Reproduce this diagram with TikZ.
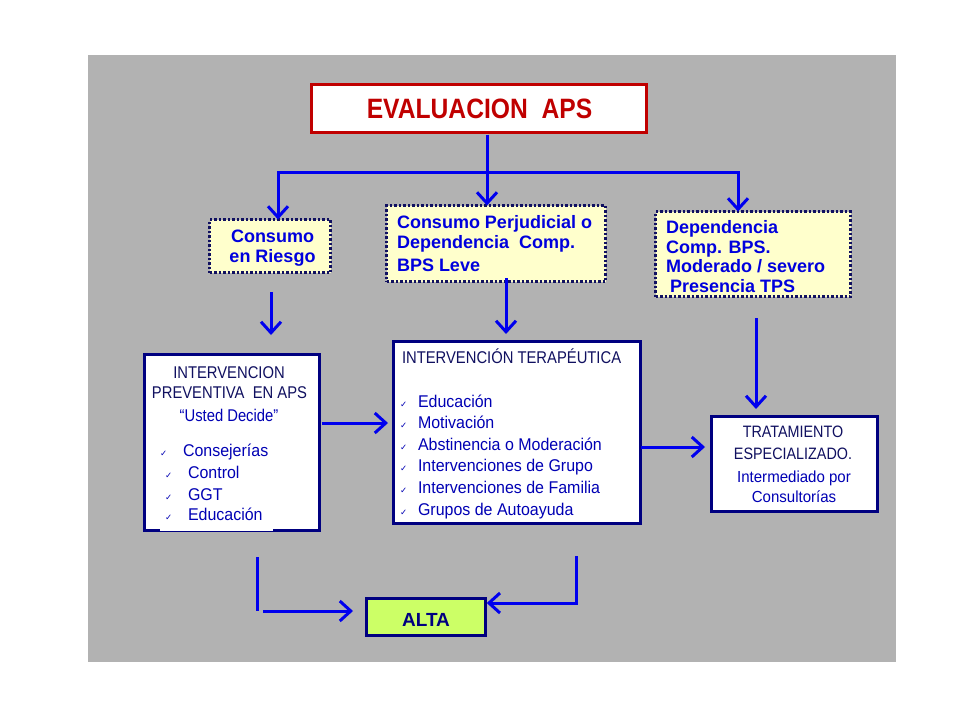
\documentclass[tikz,border=0pt]{standalone}
\usepackage{fontspec}
\setmainfont{Liberation Sans}
\newfontfamily\titlef[FakeStretch=0.88]{Liberation Sans}
\newfontfamily\capf[FakeStretch=0.87]{Liberation Sans}
\newfontfamily\lowf[FakeStretch=0.94]{Liberation Sans}
\newfontfamily\symf{DejaVu Sans}
\usetikzlibrary{arrows.meta}
\definecolor{bggray}{HTML}{B2B2B2}
\definecolor{titlered}{HTML}{C00000}
\definecolor{navybord}{HTML}{000080}
\definecolor{dotnavy}{HTML}{101060}
\definecolor{lightyel}{HTML}{FFFFCC}
\definecolor{altagreen}{HTML}{CCFF66}
\definecolor{arrblue}{HTML}{0000EE}
\definecolor{dotblue}{HTML}{0000DD}
\definecolor{darknavy}{HTML}{101060}
\definecolor{itemblue}{HTML}{0000B4}
\newcommand\myfs[2]{\fontsize{#1}{#2}\selectfont}
\newcommand\chk{{\symf\fontsize{8.5}{8.5}\selectfont ✓}}
\begin{document}
\begin{tikzpicture}[x=1pt,y=-1pt,
  box/.style={draw=navybord, line width=2.5pt, fill=white, inner sep=0pt, outer sep=0pt},
  dotbox/.style={draw=dotnavy, line width=2.5pt, dash pattern=on 2.5pt off 2pt, fill=lightyel, inner sep=0pt, outer sep=0pt},
  conn/.style={draw=arrblue, line width=3pt},
  arr/.style={conn, -{Straight Barb[length=11pt,width=20pt]}},
  txt/.style={inner sep=0pt, outer sep=0pt},
  dottxt/.style={txt, text=dotblue, font=\bfseries\myfs{18}{20}},
  captxt/.style={txt, text=darknavy, font=\capf\myfs{17}{20}},
  itemtxt/.style={txt, text=itemblue, font=\lowf\myfs{17}{20}},
  chktxt/.style={txt, text=itemblue}]
\useasboundingbox (0,0) rectangle (960,720);
\fill[white] (0,0) rectangle (960,720);
\node[fill=bggray, draw=none, inner sep=0pt, minimum width=808pt, minimum height=607pt] (bg) at (492,358.5) {};

% title
\node[draw=titlered, line width=2.5pt, fill=white, minimum width=335pt, minimum height=48pt, inner sep=0pt] (eval) at (479,108.5) {};
\node[txt, anchor=base, text=titlered, font=\titlef\bfseries\myfs{28}{30}] (evalt) at (479.5,118) {EVALUACION\ \ APS};

% dotted boxes
\node[dotbox, minimum width=121pt, minimum height=53pt] (box1) at (270,246) {};
\node[dottxt, anchor=base] (b1a) at (272.5,242) {Consumo};
\node[dottxt, anchor=base] (b1b) at (272.5,262) {en Riesgo};

\node[dotbox, minimum width=219pt, minimum height=76pt] (box2) at (496,243.5) {};
\node[dottxt, anchor=base west] (b2a) at (397,228) {Consumo Perjudicial o};
\node[dottxt, anchor=base west] (b2b) at (397,248) {Dependencia\ \ Comp.};
\node[dottxt, anchor=base west] (b2c) at (397,271) {BPS Leve};

\node[dotbox, minimum width=195pt, minimum height=85pt] (box3) at (753,254) {};
\node[dottxt, anchor=base west] (b3a) at (666,233) {Dependencia};
\node[dottxt, anchor=base west] (b3b) at (666,253) {Comp. BPS.};
\node[dottxt, anchor=base west] (b3c) at (666,272) {Moderado / severo};
\node[dottxt, anchor=base west] (b3d) at (670,292) {Presencia TPS};

% left box
\node[box, minimum width=175pt, minimum height=176pt] (lbox) at (232,442.5) {};
\fill[white] (160,526) rectangle (273,531);
\node[captxt, anchor=base] (l1) at (229,378) {INTERVENCION};
\node[captxt, anchor=base] (l2) at (229.5,398) {PREVENTIVA\ \ EN APS};
\node[captxt, anchor=base, text=itemblue] (l3) at (229,421) {“Usted Decide”};
\node[chktxt, anchor=base west] (lc1) at (160,456) {\chk};
\node[itemtxt, anchor=base west] (li1) at (183,456) {Consejerías};
\node[chktxt, anchor=base west] (lc2) at (165,478) {\chk};
\node[itemtxt, anchor=base west] (li2) at (188,478) {Control};
\node[chktxt, anchor=base west] (lc3) at (165,500) {\chk};
\node[itemtxt, anchor=base west] (li3) at (188,500) {GGT};
\node[chktxt, anchor=base west] (lc4) at (165,520) {\chk};
\node[itemtxt, anchor=base west] (li4) at (188,520) {Educación};

% middle box
\node[box, minimum width=247pt, minimum height=182pt] (mbox) at (517,432.5) {};
\node[captxt, anchor=base west] (m0) at (402,363) {INTERVENCIÓN TERAPÉUTICA};
\foreach \yy/\tt [count=\i] in {407/Educación, 428/Motivación, 450/Abstinencia o Moderación, 471/Intervenciones de Grupo, 493/Intervenciones de Familia, 515/Grupos de Autoayuda}{
  \node[chktxt, anchor=base west] (mc\i) at (400,\yy) {\chk};
  \node[itemtxt, anchor=base west] (mi\i) at (418,\yy) {\tt};
}

% right box
\node[box, minimum width=166pt, minimum height=95pt] (rbox) at (794.5,464) {};
\node[captxt, anchor=base, font=\capf\myfs{16.5}{20}] (r1) at (793,437) {TRATAMIENTO};
\node[captxt, anchor=base, font=\capf\myfs{16.5}{20}] (r2) at (793,459) {ESPECIALIZADO.};
\node[itemtxt, anchor=base, font=\lowf\myfs{16}{20}] (r3) at (794,482) {Intermediado por};
\node[itemtxt, anchor=base, font=\lowf\myfs{16}{20}] (r4) at (794,502) {Consultorías};

% alta
\node[draw=navybord, line width=2.5pt, fill=altagreen, minimum width=119pt, minimum height=37pt, inner sep=0pt] (alta) at (426,617) {};
\node[txt, anchor=base, text=navybord, font=\bfseries\myfs{19}{20}] (altat) at (426,626) {ALTA};

% connectors
\coordinate (stem) at (487,134.5);
\coordinate (jM) at (487,172);
\coordinate (jL) at (278,172);
\coordinate (jR) at (738,172);
\draw[arr] (stem) -- (stem |- box2.north);
\draw[arr] (jM) -- (jL) -- (jL |- box1.north);
\draw[arr] (jM) -- (jR) -- (jR |- box3.north);

\coordinate (a1s) at (271,292);
\coordinate (a1e) at (271,335);
\draw[arr] (a1s) -- (a1e);
\coordinate (a2s) at (506,278);
\coordinate (a2e) at (506,334);
\draw[arr] (a2s) -- (a2e);
\coordinate (a3s) at (756,318);
\coordinate (a3e) at (756,409);
\draw[arr] (a3s) -- (a3e);

\coordinate (lme) at (388,423);
\draw[arr] (lbox.east |- lme) ++(2,0) -- (lme);
\coordinate (mre) at (705,447);
\draw[arr] (mbox.east |- mre) -- (mre);

\coordinate (bl1) at (257,557);
\coordinate (bl2) at (257,611);
\coordinate (bl3) at (263,611);
\coordinate (bl4) at (353,611);
\draw[conn] (bl1) -- (bl2);
\draw[arr] (bl3) -- (bl4);
\coordinate (br1) at (576,556);
\coordinate (br2) at (576,603);
\draw[arr] (br1) -- (br2) -- (alta.east |- br2);
\end{tikzpicture}
\end{document}
